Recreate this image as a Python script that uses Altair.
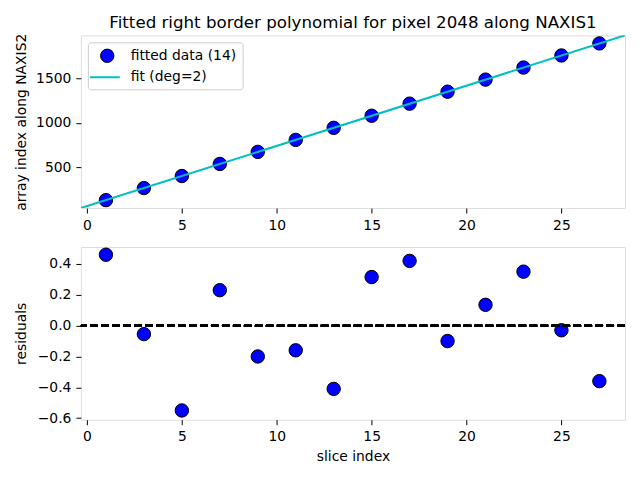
import altair as alt
import pandas as pd

# ---- data ----
slice_idx = [1, 3, 5, 7, 9, 11, 13, 15, 17, 19, 21, 23, 25, 27]
array_idx = [129, 265, 401, 537, 673, 808, 944, 1080, 1216, 1351, 1487, 1623, 1759, 1895]
residuals = [0.46, -0.055, -0.55, 0.23, -0.20, -0.16, -0.41, 0.315, 0.42, -0.10, 0.135, 0.35, -0.03, -0.36]
fit_x = [-0.32, 28.35]
fit_y = [40, 1986]
x_ticks = [0, 5, 10, 15, 20, 25]
ytop_ticks = [500, 1000, 1500]
ybot_ticks = [-0.6, -0.4, -0.2, 0.0, 0.2, 0.4]

LBL_PTS = "fitted data (14)"
LBL_FIT = "fit (deg=2)"

pts = pd.DataFrame({"x": slice_idx, "y": array_idx, "series": LBL_PTS})
fit = pd.DataFrame({"x": fit_x, "y": fit_y, "series": LBL_FIT})
res = pd.DataFrame({"x": slice_idx, "r": residuals})

FONT = "DejaVu Sans"
FS = 13.9

xscale = alt.Scale(domain=[-0.32, 28.35], nice=False, zero=False)


def axis(values, title=None, fmt=None, extent=None):
    kw = dict(values=values, tickCount=20, grid=False, tickSize=5, tickColor="black",
              domain=False, labelPadding=5, labelFont=FONT, labelFontSize=FS,
              labelColor="black", titleFont=FONT, titleFontSize=FS,
              titleFontWeight="normal", titleColor="black", labelFlush=False,
              labelOverlap=False)
    if title is not None:
        kw["title"] = title
        kw["titlePadding"] = 6
    else:
        kw["title"] = None
    if fmt is not None:
        kw["format"] = fmt
    if extent is not None:
        kw["minExtent"] = extent
        kw["maxExtent"] = extent
    return alt.Axis(**kw)


# legend for the data points: framed box; blank bottom title reserves the 2nd row
legend_pts = alt.Legend(
    title=" ", titleOrient="bottom", titleFontSize=FS, titlePadding=5,
    orient="none", legendX=7, legendY=7, padding=6,
    fillColor="rgba(255,255,255,0.8)", strokeColor="#cccccc", cornerRadius=3,
    labelFont=FONT, labelFontSize=FS, labelColor="black",
    symbolType="circle", symbolSize=180, symbolOffset=5.9, labelOffset=16,
    symbolStrokeColor="black", symbolStrokeWidth=1, symbolOpacity=1,
)
# legend for the fit line: no frame, laid over the second row
legend_fit = alt.Legend(
    title=None, orient="none", legendX=7, legendY=26, padding=0,
    labelFont=FONT, labelFontSize=FS, labelColor="black",
    symbolType="stroke", symbolSize=900, symbolStrokeWidth=2,
    symbolOffset=1, labelOffset=10, symbolOpacity=1, zindex=2,
)

yscale_top = alt.Scale(domain=[40, 1986], nice=False, zero=False)

top_pts = alt.Chart(pts).mark_point(filled=True, size=180, stroke="black",
                                    strokeWidth=1, opacity=1).encode(
    x=alt.X("x:Q", scale=xscale, axis=axis(x_ticks)),
    y=alt.Y("y:Q", scale=yscale_top,
            axis=axis(ytop_ticks, title="array index along NAXIS2", fmt="d", extent=46)),
    fill=alt.Fill("series:N", scale=alt.Scale(domain=[LBL_PTS], range=["blue"]),
                  legend=legend_pts),
)
top_fit = alt.Chart(fit).mark_line(strokeWidth=2, clip=True).encode(
    x=alt.X("x:Q", scale=xscale),
    y=alt.Y("y:Q", scale=yscale_top),
    stroke=alt.Stroke("series:N", scale=alt.Scale(domain=[LBL_FIT], range=["#00bfbf"]),
                      legend=legend_fit),
)
top = alt.layer(top_pts, top_fit).properties(
    width=545, height=173,
    title=alt.TitleParams("Fitted right border polynomial for pixel 2048 along NAXIS1",
                          font=FONT, fontSize=16.7, fontWeight="normal",
                          color="black", anchor="middle", offset=1),
)

yscale_bot = alt.Scale(domain=[-0.61, 0.51], nice=False, zero=False)
bot_pts = alt.Chart(res).mark_point(filled=True, size=180, stroke="black",
                                    strokeWidth=1, opacity=1, color="blue").encode(
    x=alt.X("x:Q", scale=xscale, axis=axis(x_ticks, title="slice index")),
    y=alt.Y("r:Q", scale=yscale_bot,
            axis=axis(ybot_ticks, title="residuals", fmt=".1f", extent=46)),
)
zero_line = alt.Chart(res).mark_rule(color="black", strokeWidth=2,
                                     strokeDash=[7.7, 3.3]).encode(
    y=alt.datum(0),
)
bot = alt.layer(bot_pts, zero_line).properties(width=545, height=173)

chart = alt.vconcat(top, bot, spacing=12).properties(
    padding={"left": 6, "top": 6, "right": 5, "bottom": 5}
).configure_view(
    stroke="black", strokeWidth=1
).configure(background="white")

chart.save("out.html", embed_options={"renderer": "svg", "actions": False})
